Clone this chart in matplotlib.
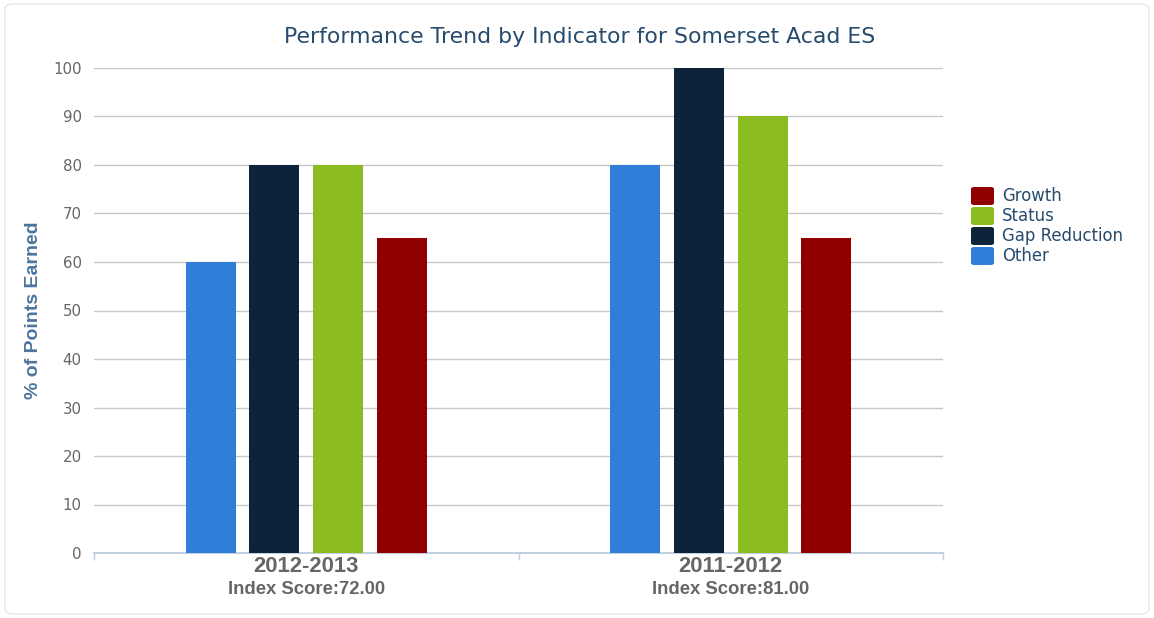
import numpy as np
import matplotlib
matplotlib.use("Agg")
from matplotlib import pyplot as plt
from matplotlib.patches import FancyBboxPatch

plt.rcParams["font.family"] = ["DejaVu Sans"]

categories = ["2012-2013", "2011-2012"]
index_scores = ["72.00", "81.00"]
series_names = ["Other", "Gap Reduction", "Status", "Growth"]
other = [60, 80]
gap_reduction = [80, 100]
status = [80, 90]
growth = [65, 65]
colors = ["#2f7ed8", "#0d233a", "#8bbc21", "#910000"]

values = [other, gap_reduction, status, growth]
W, H = 1154, 618

fig = plt.figure(figsize=(W / 100, H / 100), dpi=100)
fig.patches.append(FancyBboxPatch((5 / W, 4 / H), 1144 / W, 610 / H,
                                  boxstyle="round,pad=0,rounding_size=0.008",
                                  transform=fig.transFigure, fc="white",
                                  ec="#e6e6e6", lw=1, zorder=-1))
ax = fig.add_axes([94 / W, 65 / H, 849 / W, 485 / H])
ax.set_facecolor("none")

x = np.arange(len(categories))
width = 0.118
step = 0.15
for i, (vals, name, c) in enumerate(zip(values, series_names, colors)):
    ax.bar(x + (i - 1.5) * step, vals, width, color=c, label=name, zorder=3)

ax.set_xlim(-0.5, 1.5)
ax.set_ylim(0, 100)
ax.set_yticks(range(0, 101, 10))
ax.grid(axis="y", color="#c8c8c8", lw=1, zorder=0)
for s in ["top", "right", "left"]:
    ax.spines[s].set_visible(False)
ax.spines["bottom"].set_color("#c0d0e0")
ax.spines["bottom"].set_linewidth(1.5)
ax.tick_params(axis="y", length=0, labelsize=10.8, labelcolor="#666666", pad=9)

ax.set_xticks([-0.5, 0.5, 1.5], minor=True)
ax.tick_params(axis="x", which="minor", length=5, color="#c0d0e0", width=1)
ax.set_xticks(x)
ax.set_xticklabels([])
ax.tick_params(axis="x", which="major", length=0)

# two-line category labels, placed in pixels below the axis
for xi, cat, score in zip(x, categories, index_scores):
    xf = ax.transData.transform((xi, 0))[0] / W
    fig.text(xf, 1 - 567 / H, cat, ha="center", va="center", fontsize=15.8,
             fontweight="bold", color="#666666", family="Liberation Sans")
    fig.text(xf, 1 - 589 / H, "Index Score:" + score, ha="center", va="center",
             fontsize=13.3, fontweight="bold", color="#666666",
             family="Liberation Sans")

ax.set_ylabel("% of Points Earned", fontsize=14, fontweight="bold",
              color="#4d759e", family="Liberation Sans")
ax.yaxis.set_label_coords(-(94 - 42) / 849, 0.5)

fig.text(580 / W, 1 - 37 / H, "Performance Trend by Indicator for Somerset Acad ES",
         ha="center", va="center", fontsize=15.8, color="#274b6d")

# legend, top to bottom: Growth, Status, Gap Reduction, Other
for k, (name, c) in enumerate(list(zip(series_names, colors))[::-1]):
    yc = 196 + 20 * k
    fig.patches.append(FancyBboxPatch((971 / W, 1 - (yc + 9) / H), 23 / W, 18 / H,
                                      boxstyle="round,pad=0,rounding_size=0.003",
                                      transform=fig.transFigure, fc=c, ec="none"))
    fig.text(1002 / W, 1 - yc / H, name, ha="left", va="center",
             fontsize=11.9, color="#274b6d")

fig.savefig("out.png", dpi=100)
